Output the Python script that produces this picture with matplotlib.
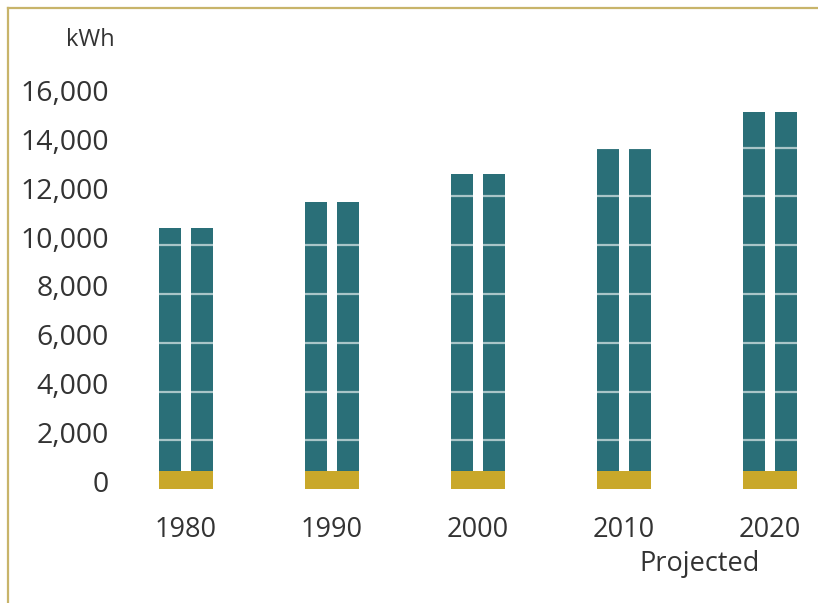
import matplotlib
matplotlib.use("Agg")
import matplotlib.pyplot as plt
import matplotlib.transforms as mtransforms
from matplotlib.lines import Line2D
import numpy as np

# ---- data ----
years = ["1980", "1990", "2000", "2010", "2020"]
consumption_kwh = [10700, 11750, 12900, 13950, 15450]
base_kwh = [750, 750, 750, 750, 750]
yticks = [0, 2000, 4000, 6000, 8000, 10000, 12000, 14000, 16000]
ytick_labels = ["0", "2,000", "4,000", "6,000", "8,000", "10,000", "12,000", "14,000", "16,000"]

TEAL = "#2a6f78"
GOLD = "#c9a82a"
BORDER = "#c8b46a"
TEXT = "#333333"
FONT = ["Open Sans", "DejaVu Sans"]

plt.rcParams["font.family"] = FONT

W, H = 818, 603
fig = plt.figure(figsize=(W / 100, H / 100), dpi=100)

ax_left, ax_right = 120.1, 813.8
ax_top, ax_bottom = 74.4, 489.2
ax = fig.add_axes([ax_left / W, 1 - ax_bottom / H, (ax_right - ax_left) / W, (ax_bottom - ax_top) / H])

x = np.arange(len(years))
bw = 0.154
off = 0.110

ax.bar(x - off, consumption_kwh, width=bw, color=TEAL, zorder=2)
ax.bar(x + off, consumption_kwh, width=bw, color=TEAL, zorder=2)
ax.bar(x, base_kwh, width=2 * off + bw, color=GOLD, zorder=4)

ax.set_ylim(0, 17000)
ax.set_xlim(-0.45, 4.3)

ax.set_yticks(yticks)
ax.set_yticklabels(ytick_labels)
ax.yaxis.grid(True, color="white", alpha=0.6, linewidth=1.6, zorder=3)
ax.set_axisbelow(False)
for gl in ax.yaxis.get_gridlines():
    gl.set_zorder(3)

ax.set_xticks(x)
ax.set_xticklabels(years)

ax.tick_params(axis="both", length=0, labelcolor=TEXT)
ax.tick_params(axis="x", pad=19, labelsize=19.5)
ax.tick_params(axis="y", pad=8, labelsize=20.5)

shift = mtransforms.ScaledTranslation(0, 8 / 100, fig.dpi_scale_trans)
for lbl in ax.get_yticklabels():
    lbl.set_transform(lbl.get_transform() + shift)

for s in ax.spines.values():
    s.set_visible(False)

fig.text(66 / W, 1 - 40 / H, "kWh", fontsize=17, color=TEXT, ha="left", va="center")
fig.text(760 / W, 1 - 564 / H, "Projected", fontsize=19.5, color=TEXT, ha="right", va="center")

# frame lines (top and left)
fig.add_artist(Line2D([7.5 / W, 1.0], [1 - 7.5 / H, 1 - 7.5 / H], color=BORDER, linewidth=1.6, transform=fig.transFigure))
fig.add_artist(Line2D([7.5 / W, 7.5 / W], [1 - 7.5 / H, 0.0], color=BORDER, linewidth=1.6, transform=fig.transFigure))

fig.savefig("out.png", dpi=100)
